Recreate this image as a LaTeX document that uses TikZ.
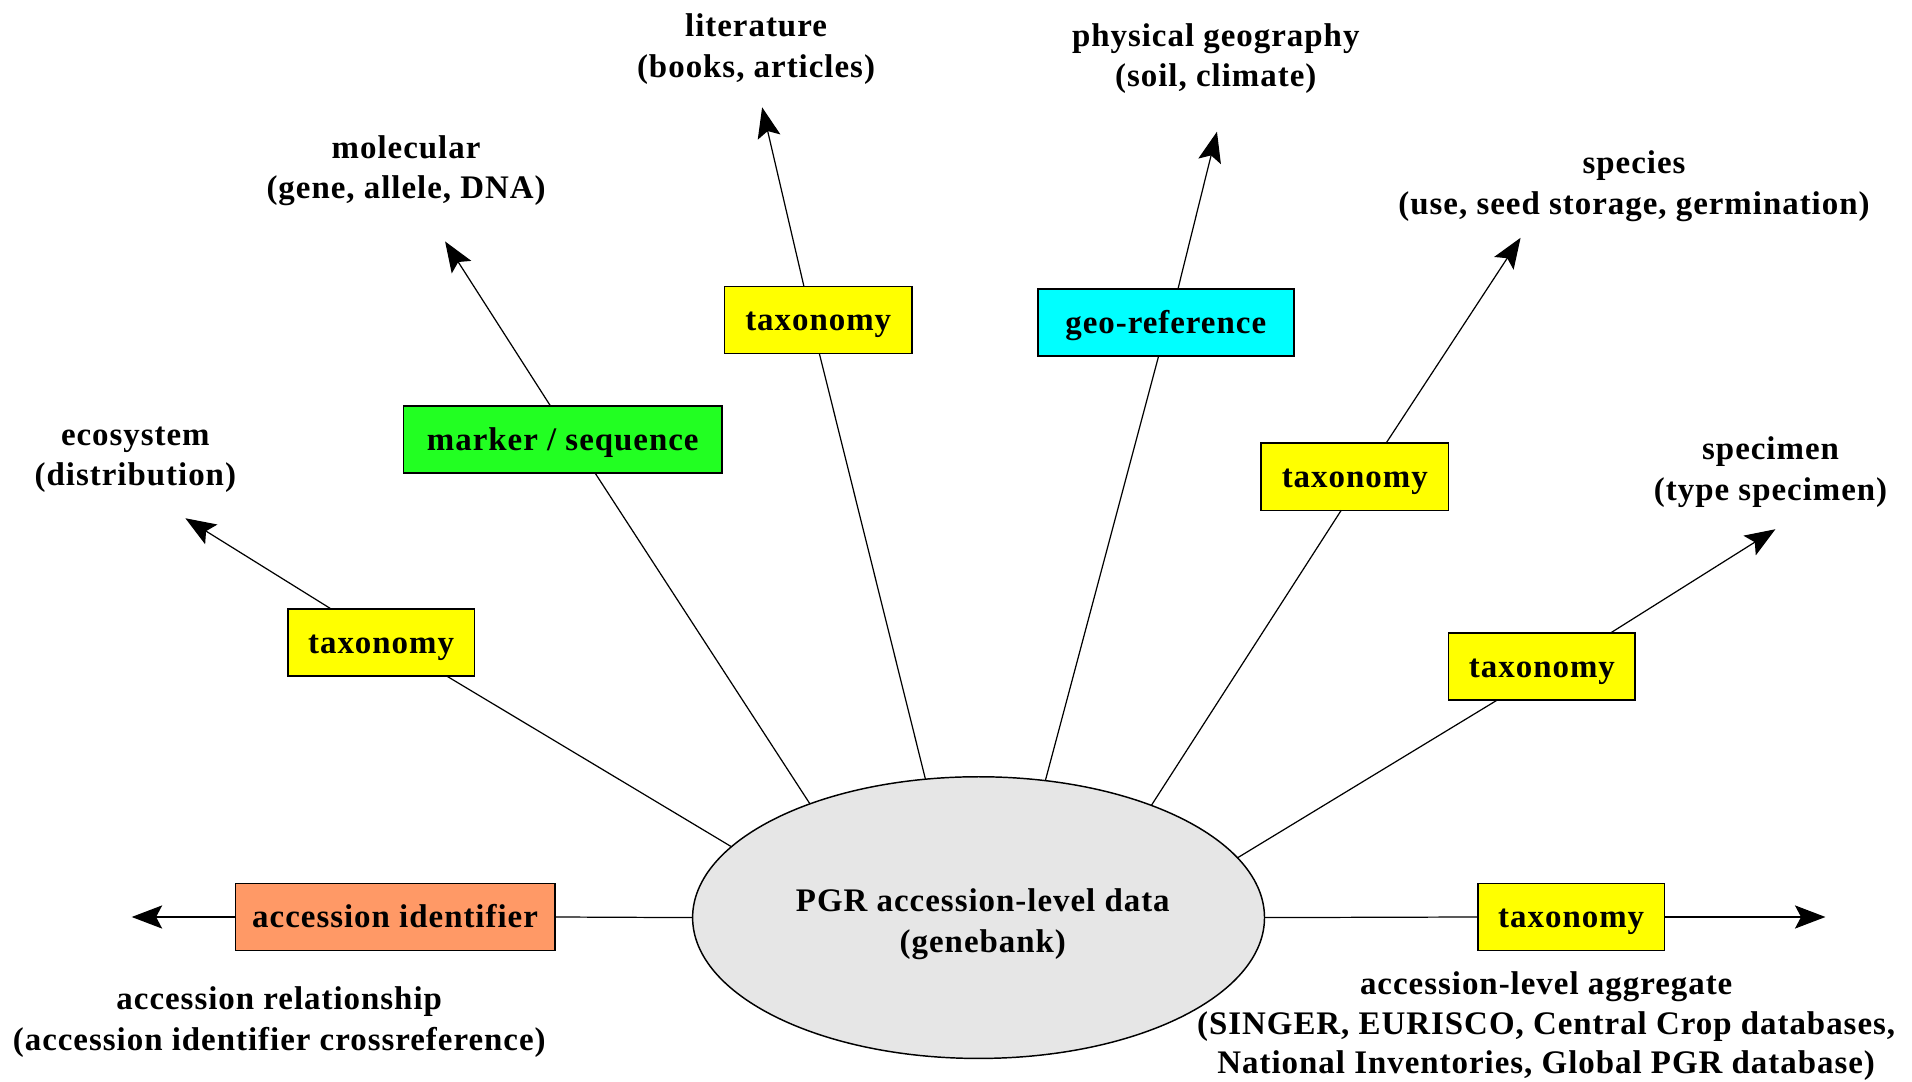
\documentclass[tikz,border=0pt]{standalone}
\usepackage{fontspec}
\setmainfont{Liberation Serif}[LetterSpace=3]
\usetikzlibrary{arrows.meta,shapes.geometric}
\definecolor{ellgray}{RGB}{230,230,230}
\definecolor{boxyellow}{RGB}{255,255,0}
\definecolor{boxcyan}{RGB}{0,255,255}
\definecolor{boxgreen}{RGB}{34,255,34}
\definecolor{boxorange}{RGB}{255,153,102}
\begin{document}
\begin{tikzpicture}[x=1pt,y=-1pt,
  every node/.style={font=\bfseries\fontsize{27}{33.5}\selectfont},
  box/.style={draw=black, line width=1.3pt, inner sep=0pt, outer sep=0pt, minimum height=55pt, text height=20.5pt, text depth=3.1pt},
  lbl/.style={align=center, inner sep=0pt},
  conn/.style={line width=1pt},
  arr/.style={conn, -{Stealth[length=25pt,width=19pt,inset=5pt]}}
]
\useasboundingbox (0,0) rectangle (1568,887);
% central ellipse
\node[ellipse, draw=black, fill=ellgray, line width=1.2pt, minimum width=469pt, minimum height=231pt, inner sep=0pt, outer sep=0pt] (ell) at (802.5,752.5) {};
\node[lbl] (ellt) at (806,758) {PGR accession-level data\\(genebank)};
% boxes
\node[box, fill=boxyellow, minimum width=154pt] (tT) at (671,262.5) {taxonomy};
\node[box, fill=boxcyan, minimum width=210pt] (geo) at (956,264.5) {geo-reference};
\node[box, fill=boxgreen, minimum width=261pt] (mk) at (461.5,360.5) {marker / sequence};
\node[box, fill=boxyellow, minimum width=154pt] (tRU) at (1111,391) {taxonomy};
\node[box, fill=boxyellow, minimum width=153pt] (tL) at (312.5,527) {taxonomy};
\node[box, fill=boxyellow, minimum width=153pt] (tR) at (1264.5,546.5) {taxonomy};
\node[box, fill=boxorange, minimum width=262pt] (acc) at (324,752) {accession identifier};
\node[box, fill=boxyellow, minimum width=153pt] (tB) at (1288.5,752) {taxonomy};
% arrow tips
\coordinate (aT) at (625,88);
\coordinate (aGeo) at (998,108);
\coordinate (aMk) at (365,198);
\coordinate (aRU) at (1247,195);
\coordinate (aL) at (152,425);
\coordinate (aR) at (1456,434);
\coordinate (aAcc) at (108,752);
\coordinate (aB) at (1497,752);
% labels
\node[lbl] (lit) at (620,40.5) {literature\\(books, articles)};
\node[lbl] (phys) at (997,48) {physical geography\\(soil, climate)};
\node[lbl] (mol) at (333,140) {molecular\\(gene, allele, DNA)};
\node[lbl] (spec) at (1340,153) {species\\(use, seed storage, germination)};
\node[lbl] (eco) at (111,377) {ecosystem\\(distribution)};
\node[lbl] (spm) at (1452,387.5) {specimen\\(type specimen)};
\node[lbl] (rel) at (229,838) {accession relationship\\(accession identifier crossreference)};
\node[lbl, font=\bfseries\fontsize{27}{32.5}\selectfont] (agg) at (1268,841.5) {accession-level aggregate\\(SINGER, EURISCO, Central Crop databases,\\National Inventories, Global PGR database)};
% connectors
\draw[conn] (ell.111.7) -- (tT.-88);
\draw[arr] (tT.113.6) -- (aT);
\draw[conn] (ell.64.5) -- (geo.-102.3);
\draw[arr] (geo.70) -- (aGeo);
\draw[conn] (ell.146.3) -- (mk.-46);
\draw[arr] (mk.110.9) -- (aMk);
\draw[conn] (ell.33.6) -- (tRU.-112.2);
\draw[arr] (tRU.47.2) -- (aRU);
\draw[conn] (ell.164.9) -- (tL.-27.7);
\draw[arr] (tL.146.3) -- (aL);
\draw[conn] (ell.13.6) -- (tR.-143.7);
\draw[arr] (tR.26.4) -- (aR);
\draw[conn] (ell.west) -- (acc.east);
\draw[arr] (acc.west) -- (aAcc);
\draw[conn] (ell.east) -- (tB.west);
\draw[arr] (tB.east) -- (aB);
\end{tikzpicture}
\end{document}
